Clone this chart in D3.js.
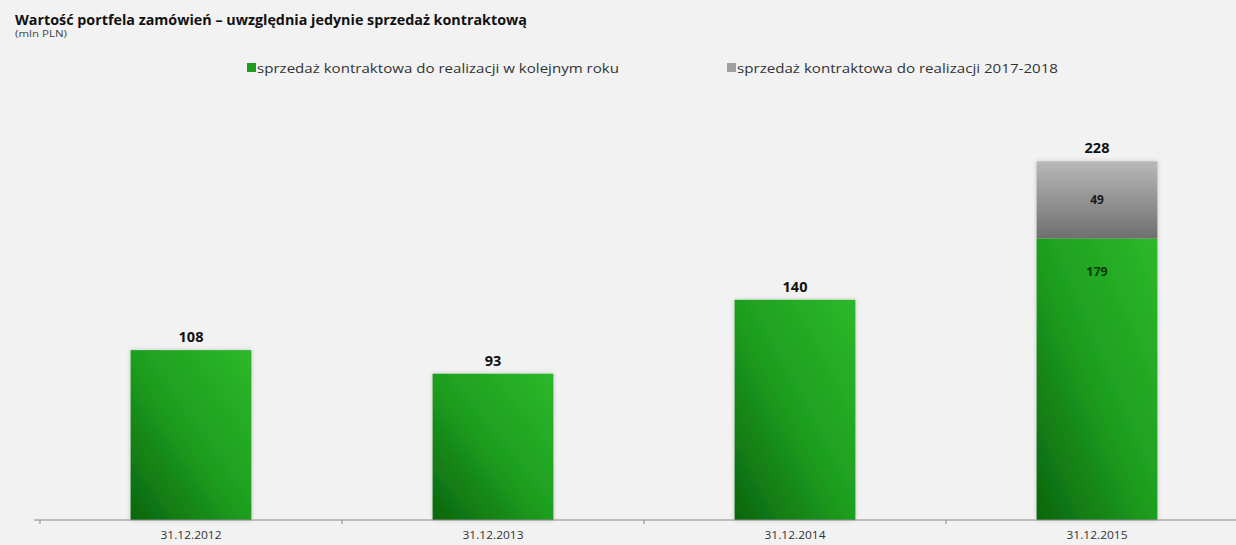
<!DOCTYPE html>
<html>
<head>
<meta charset="utf-8">
<script src="https://cdn.jsdelivr.net/npm/d3@7"></script>
<style>
  body { margin: 0; background: #f2f2f2; }
  svg { display: block; font-family: "Open Sans", sans-serif; }
</style>
</head>
<body>
<svg id="chart" width="1236" height="545"></svg>
<script>
const categories = ['31.12.2012', '31.12.2013', '31.12.2014', '31.12.2015'];
const nextYear = [108, 93, 140, 179];
const later = [0, 0, 0, 49];
const totals = [108, 93, 140, 228];
const legendLabels = ['sprzedaż kontraktowa do realizacji w kolejnym roku', 'sprzedaż kontraktowa do realizacji 2017-2018'];

const width = 1236, height = 545;
const svg = d3.select('#chart');

const defs = svg.append('defs');
const gGreen = defs.append('linearGradient').attr('id', 'green')
  .attr('x1', 0).attr('y1', 1).attr('x2', 1).attr('y2', 0);
gGreen.append('stop').attr('offset', 0).attr('stop-color', '#0b650e');
gGreen.append('stop').attr('offset', 0.5).attr('stop-color', '#1e9f1f');
gGreen.append('stop').attr('offset', 1).attr('stop-color', '#2cb82a');
const gGrey = defs.append('linearGradient').attr('id', 'grey')
  .attr('x1', 0).attr('y1', 0).attr('x2', 0).attr('y2', 1);
gGrey.append('stop').attr('offset', 0).attr('stop-color', '#b8b8b8');
gGrey.append('stop').attr('offset', 1).attr('stop-color', '#6f6f6f');
const shadow = defs.append('filter').attr('id', 'shadow')
  .attr('x', '-10%').attr('y', '-10%').attr('width', '120%').attr('height', '120%');
shadow.append('feDropShadow').attr('dx', 0).attr('dy', 0).attr('stdDeviation', 2)
  .attr('flood-color', '#000').attr('flood-opacity', 0.2);

const x = d3.scaleBand().domain(categories).range([40, 1248]).paddingInner(0.6).paddingOuter(0.3);
const step = x.step();
const y = d3.scaleLinear().domain([0, 300]).range([520, 520 - 300 * 1.573]);

// title
svg.append('text').attr('x', 15).attr('y', 25)
  .attr('font-size', 13.5).attr('font-weight', 'bold').attr('fill', '#111')
  .attr('textLength', 512).attr('lengthAdjust', 'spacingAndGlyphs')
  .text('Wartość portfela zamówień – uwzględnia jedynie sprzedaż kontraktową');
svg.append('text').attr('x', 15).attr('y', 37)
  .attr('font-size', 9).attr('fill', '#444')
  .attr('textLength', 52).attr('lengthAdjust', 'spacingAndGlyphs')
  .text('(mln PLN)');

// legend
const legendX = [247, 727];
const legendW = [362, 321];
const legendFill = ['#1e9e1e', '#a0a0a0'];
legendLabels.forEach((lab, i) => {
  svg.append('rect').attr('x', legendX[i]).attr('y', 63).attr('width', 9).attr('height', 9)
    .attr('fill', legendFill[i]);
  svg.append('text').attr('x', legendX[i] + 10).attr('y', 73)
    .attr('font-size', 13.5).attr('fill', '#333')
    .attr('textLength', legendW[i]).attr('lengthAdjust', 'spacingAndGlyphs')
    .text(lab);
});

// bars
const bars = svg.append('g').attr('filter', 'url(#shadow)');
bars.selectAll('rect.next').data(categories).join('rect')
  .attr('class', 'next')
  .attr('x', d => x(d)).attr('width', x.bandwidth())
  .attr('y', (d, i) => y(nextYear[i])).attr('height', (d, i) => y(0) - y(nextYear[i]))
  .attr('fill', 'url(#green)');
bars.selectAll('rect.later').data(categories.filter((d, i) => later[i] > 0)).join('rect')
  .attr('class', 'later')
  .attr('x', d => x(d)).attr('width', x.bandwidth())
  .attr('y', d => { const i = categories.indexOf(d); return y(nextYear[i] + later[i]); })
  .attr('height', d => { const i = categories.indexOf(d); return y(0) - y(later[i]); })
  .attr('fill', 'url(#grey)');

// axis
const axisG = svg.append('g').attr('transform', 'translate(0,520)');
axisG.append('line').attr('x1', 34).attr('x2', width).attr('y1', 0).attr('y2', 0)
  .attr('stroke', '#888').attr('stroke-width', 1);
axisG.selectAll('line.tick').data(categories).join('line')
  .attr('class', 'tick')
  .attr('x1', d => x(d) - step * 0.3).attr('x2', d => x(d) - step * 0.3)
  .attr('y1', 0).attr('y2', 4).attr('stroke', '#888');
axisG.selectAll('text').data(categories).join('text')
  .attr('x', d => x(d) + x.bandwidth() / 2).attr('y', 19)
  .attr('text-anchor', 'middle').attr('font-size', 11).attr('fill', '#333')
  .attr('textLength', 61).attr('lengthAdjust', 'spacingAndGlyphs')
  .text(d => d);

// total labels
svg.selectAll('text.total').data(categories).join('text')
  .attr('class', 'total')
  .attr('x', d => x(d) + x.bandwidth() / 2)
  .attr('y', (d, i) => y(totals[i]) - 8)
  .attr('text-anchor', 'middle').attr('font-size', 14.5).attr('font-weight', 'bold').attr('fill', '#111')
  .text((d, i) => totals[i]);

// inner labels for stacked bar
categories.forEach((d, i) => {
  if (later[i] > 0) {
    const cx = x(d) + x.bandwidth() / 2;
    svg.append('text').attr('x', cx).attr('y', y(nextYear[i]) + 38)
      .attr('text-anchor', 'middle').attr('font-size', 12.5).attr('font-weight', 'bold')
      .attr('fill', '#0b3a0b').text(nextYear[i]);
    svg.append('text').attr('x', cx).attr('y', (y(nextYear[i]) + y(nextYear[i] + later[i])) / 2 + 4)
      .attr('text-anchor', 'middle').attr('font-size', 12).attr('font-weight', 'bold')
      .attr('fill', '#1a1a1a').text(later[i]);
  }
});
</script>
</body>
</html>
